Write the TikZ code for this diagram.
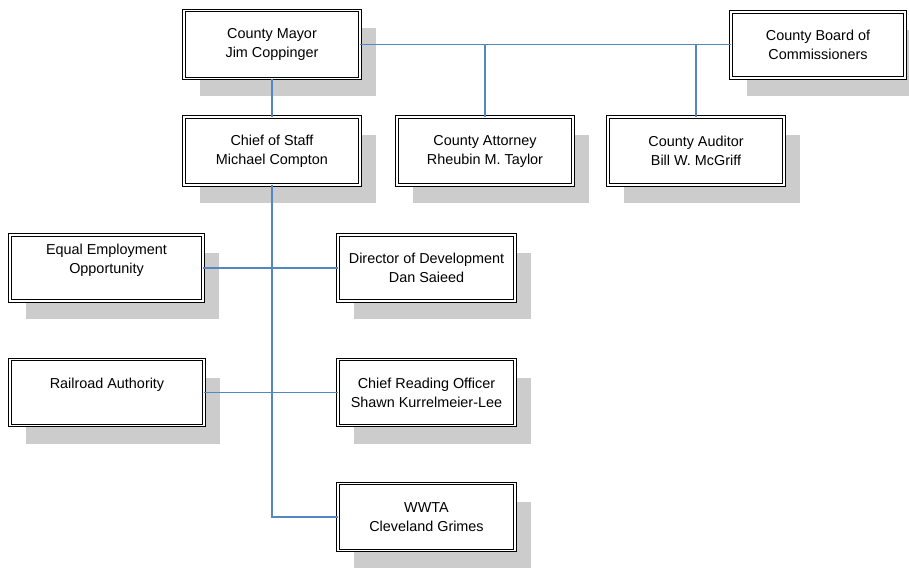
\documentclass[tikz,border=0pt]{standalone}
\usepackage{fontspec}
\setmainfont{Liberation Sans}
\usetikzlibrary{positioning,shadows}
\definecolor{linkblue}{RGB}{84,134,194}
\definecolor{shadegray}{RGB}{204,204,204}
\tikzset{unit/.style={draw, double, line width=0.9pt, double distance=1.5pt,
                      fill=white, align=center, inner sep=0pt,
                      minimum width=176pt, minimum height=68pt,
                      font=\fontsize{14.4}{19}\selectfont,
                      drop shadow={shadow xshift=16pt, shadow yshift=-18pt,
                                   fill=shadegray, opacity=1}},
         link/.style={draw=linkblue, line width=1.2pt}}

\begin{document}
\begin{tikzpicture}[x=1pt, y=-1pt]

             \useasboundingbox (0,0) rectangle (909,567);

             \node[unit] (mayor) at (272,44.5) {County Mayor\\Jim Coppinger};
             \node[unit] (staff) at (272,151) {Chief of Staff\\Michael Compton};
             \node[unit] (attorney) at (485,151) {County Attorney\\Rheubin M. Taylor};
             \node[unit] (auditor) at (696,151) {County Auditor\\Bill W. McGriff};
             \node[unit, minimum width=174pt, minimum height=66pt] (board) at (818,45) {County Board of\\Commissioners};

             \node[unit, minimum width=193pt, minimum height=66pt] (eeo) at (106.5,268) {Equal Employment\\Opportunity\\\mbox{}};
             \node[unit, minimum width=177pt, minimum height=66pt] (director) at (426.5,268) {Director of Development\\Dan Saieed};

             \node[unit, minimum width=194pt, minimum height=66pt] (rail) at (107,392.5) {Railroad Authority\\\mbox{}};
             \node[unit, minimum width=177pt, minimum height=66pt] (reading) at (426.5,392.5) {Chief Reading Officer\\Shawn Kurrelmeier-Lee};

             \node[unit, minimum width=177pt, minimum height=67pt] (wwta) at (426.5,517) {WWTA\\Cleveland Grimes};

             \draw [link] (mayor.east) -- (mayor.east -| board.west);
             \draw [link] (attorney.north) -- (attorney.north |- mayor.east);
             \draw [link] (auditor.north) -- (auditor.north |- mayor.east);
             \draw [link] (mayor.south) -- (staff.north);

             \draw [link] (staff.south) |- (wwta.west);
             \draw [link] (eeo.east) -- (director.west);
             \draw [link] (rail.east) -- (reading.west);

          \end{tikzpicture}
\end{document}
